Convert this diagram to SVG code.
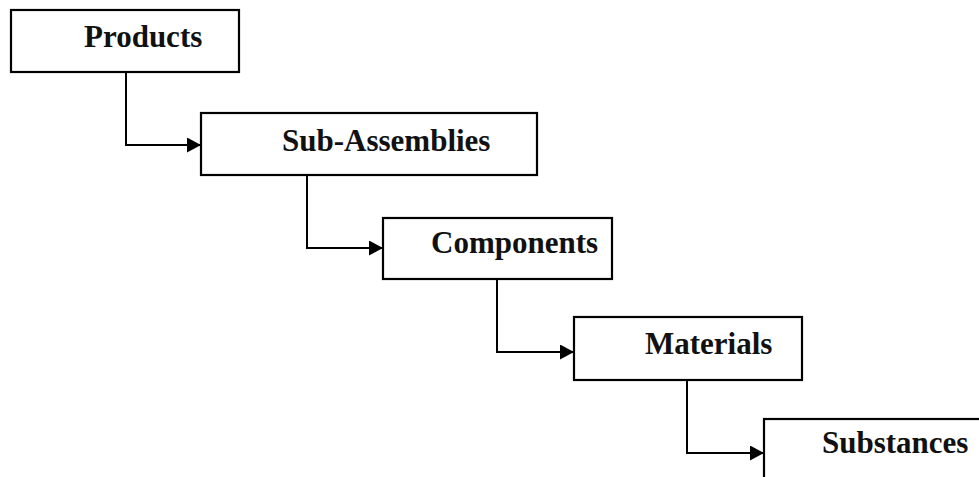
<svg xmlns="http://www.w3.org/2000/svg" width="979" height="477" viewBox="0 0 979 477">
  <defs>
    <marker id="arrow" viewBox="0 0 14 15" refX="14" refY="7.5" markerWidth="14" markerHeight="15" markerUnits="userSpaceOnUse" orient="auto">
      <path d="M0,0 L14,7.5 L0,15 Z" fill="#000"/>
    </marker>
  </defs>
  <style>
    .box { fill: #fff; stroke: #000; stroke-width: 2.2; }
    .label { font-family: "Liberation Serif", "Times New Roman", serif; font-weight: bold; font-size: 31px; fill: #111; }
    .link { fill: none; stroke: #000; stroke-width: 2; marker-end: url(#arrow); }
  </style>
  <rect width="979" height="477" fill="#fff"/>

  <!-- hierarchy connectors: down from each level, then right into the next -->
  <g id="connectors">
    <path class="link" d="M126,72 V145 H201"/>
    <path class="link" d="M307,176 V248 H383"/>
    <path class="link" d="M497,279 V352 H574"/>
    <path class="link" d="M687,380 V453 H764"/>
  </g>

  <g id="products">
    <rect class="box" x="11" y="10" width="228" height="62"/>
    <text class="label" x="84" y="47">Products</text>
  </g>

  <g id="sub-assemblies">
    <rect class="box" x="201" y="113" width="336" height="62"/>
    <text class="label" x="282" y="151">Sub-Assemblies</text>
  </g>

  <g id="components">
    <rect class="box" x="383" y="218" width="229" height="61"/>
    <text class="label" x="431" y="253">Components</text>
  </g>

  <g id="materials">
    <rect class="box" x="574" y="317" width="228" height="63"/>
    <text class="label" x="645" y="354">Materials</text>
  </g>

  <g id="substances">
    <rect class="box" x="764" y="419" width="280" height="90"/>
    <text class="label" x="822" y="453">Substances</text>
  </g>
</svg>
